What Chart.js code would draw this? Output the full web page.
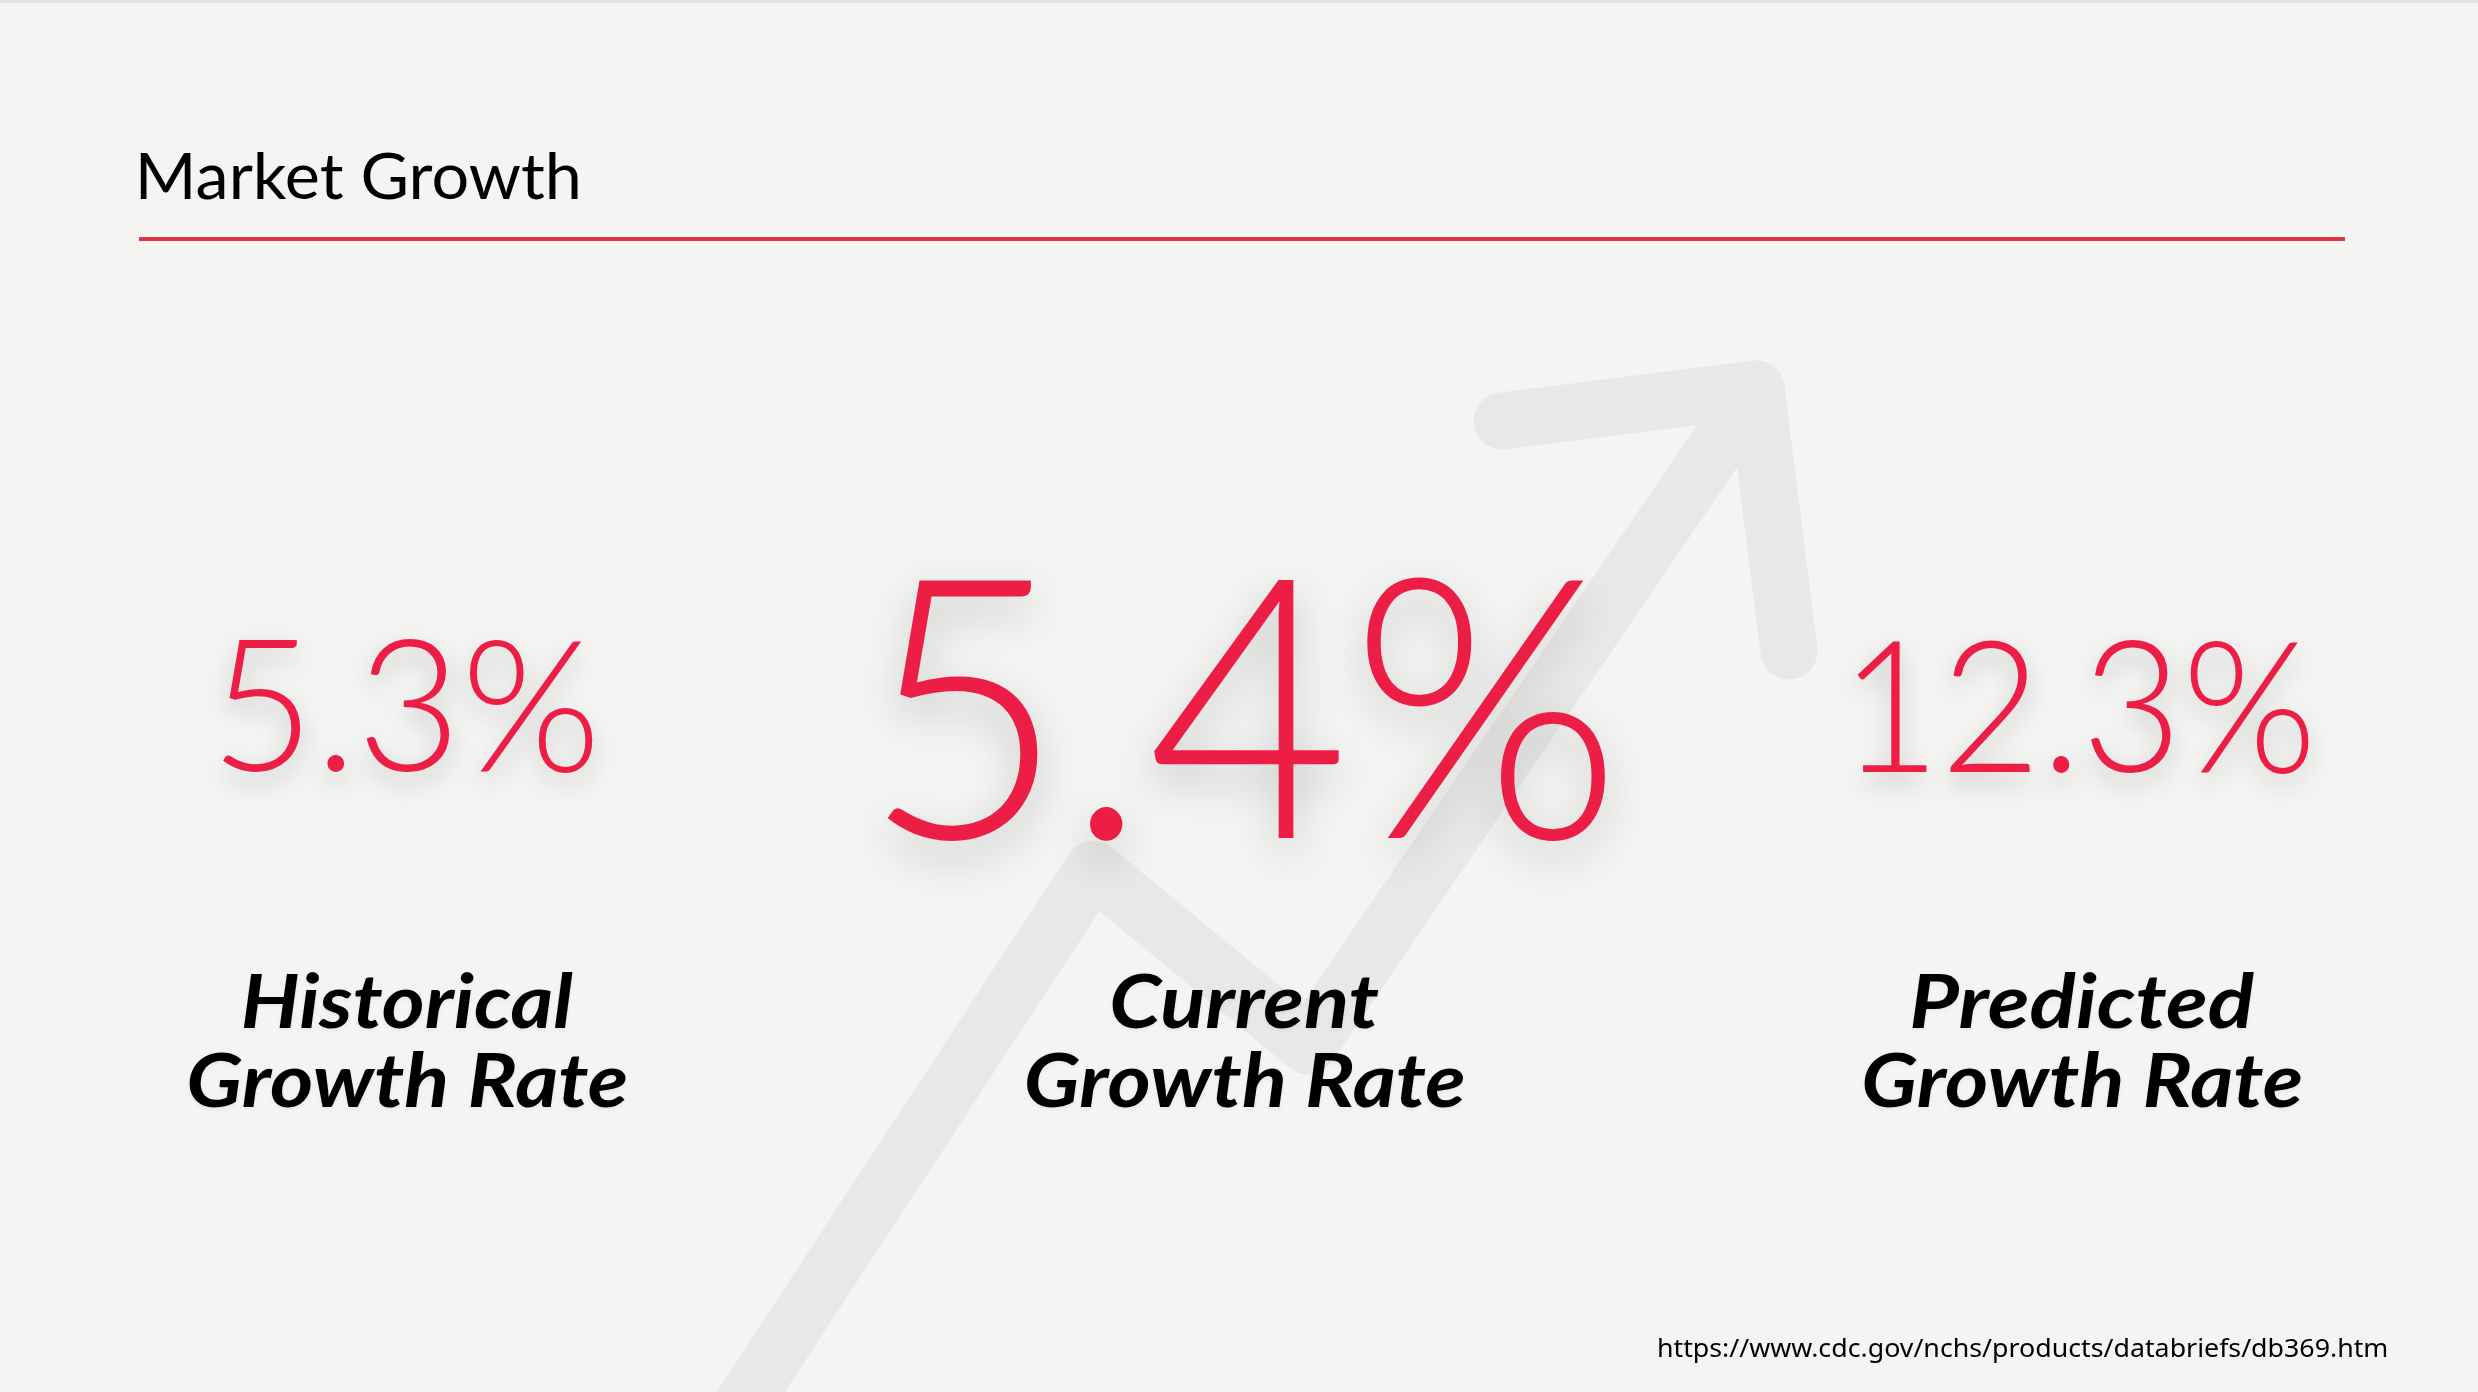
<!DOCTYPE html>
<html>
<head>
<meta charset="utf-8">
<script src="https://cdn.jsdelivr.net/npm/chart.js@4.4.1/dist/chart.umd.min.js"></script>
<style>
  html, body { margin: 0; padding: 0; background: #f4f4f2; }
  #wrap { width: 2478px; height: 1392px; position: relative; }
</style>
</head>
<body>
<div id="wrap"><canvas id="growthChart"></canvas></div>
<script>
const titleText = 'Market Growth';
const sourceText = 'https://www.cdc.gov/nchs/products/databriefs/db369.htm';

const categories = ['Historical', 'Current', 'Predicted'];
const categorySub = 'Growth Rate';
const growthRates = [5.3, 5.4, 12.3];

// background arrow, in page pixels
const arrowShaft = [
  { x: 680, y: 1500 }, { x: 1093, y: 869 }, { x: 1308, y: 1046 }, { x: 1756, y: 389 }
];
const arrowHead = [
  { x: 1502, y: 421 }, { x: 1756, y: 389 }, { x: 1789, y: 651 }
];

const W = 2478, H = 1392;
const red = '#ed1e46';

// how big each value is drawn, and how wide its ink is
const valueStyle = [
  { size: 184, width: 370, base: 771, blur: 26, off: 10 },
  { size: 364, width: 722, base: 838, blur: 44, off: 16 },
  { size: 184, width: 452, base: 772, blur: 26, off: 10 }
];
const labelWidths = [330, 266, 343];

function drawFitted(ctx, text, font, x, baseline, width, align) {
  ctx.font = font;
  ctx.textAlign = 'left';
  ctx.textBaseline = 'alphabetic';
  const m = ctx.measureText(text);
  const ink = m.actualBoundingBoxLeft + m.actualBoundingBoxRight;
  const sx = width / ink;
  const left = align === 'center' ? x - width / 2 : x;
  ctx.save();
  ctx.translate(left, baseline);
  ctx.scale(sx, 1);
  ctx.fillText(text, m.actualBoundingBoxLeft, 0);
  ctx.restore();
}

const slidePlugin = {
  id: 'slide',
  beforeDraw(chart) {
    const ctx = chart.ctx;
    ctx.save();
    ctx.fillStyle = '#f4f4f2';
    ctx.fillRect(0, 0, W, H);
    ctx.fillStyle = '#e3e3e1';
    ctx.fillRect(0, 0, W, 3);
    ctx.restore();
  },
  afterDatasetsDraw(chart) {
    const ctx = chart.ctx;
    const meta = chart.getDatasetMeta(2);

    ctx.save();
    ctx.fillStyle = '#000';
    drawFitted(ctx, titleText, '400 64px Lato', 140, 199, 438, 'left');
    ctx.fillStyle = '#e0364c';
    ctx.fillRect(139, 237, 2206, 4);

    // values
    meta.data.forEach((pt, i) => {
      const s = valueStyle[i];
      ctx.save();
      ctx.shadowColor = 'rgba(0,0,0,0.22)';
      ctx.shadowBlur = s.blur;
      ctx.shadowOffsetY = s.off;
      ctx.fillStyle = red;
      drawFitted(ctx, growthRates[i].toFixed(1) + '%', '300 ' + s.size + 'px Lato', pt.x, s.base, s.width, 'center');
      ctx.restore();

      ctx.save();
      ctx.fillStyle = '#000';
      ctx.shadowColor = 'rgba(0,0,0,0.06)';
      ctx.shadowBlur = 4;
      ctx.shadowOffsetY = 2;
      drawFitted(ctx, categories[i], 'italic 700 75px Lato', pt.x, 1028, labelWidths[i], 'center');
      drawFitted(ctx, categorySub, 'italic 700 75px Lato', pt.x, 1107, 437, 'center');
      ctx.restore();
    });

    ctx.fillStyle = '#000';
    drawFitted(ctx, sourceText, '400 26px "Noto Sans"', 1659, 1357, 728, 'left');
    ctx.restore();
  }
};

const ctx = document.getElementById('growthChart').getContext('2d');

new Chart(ctx, {
  type: 'line',
  data: {
    datasets: [
      {
        label: 'arrow',
        data: arrowShaft,
        xAxisID: 'xa',
        yAxisID: 'ya',
        borderColor: '#e8e8e6',
        borderWidth: 57,
        borderCapStyle: 'round',
        borderJoinStyle: 'round',
        pointRadius: 0,
        tension: 0,
        fill: false
      },
      {
        label: 'arrow head',
        data: arrowHead,
        xAxisID: 'xa',
        yAxisID: 'ya',
        borderColor: '#e8e8e6',
        borderWidth: 57,
        borderCapStyle: 'round',
        borderJoinStyle: 'round',
        pointRadius: 0,
        tension: 0,
        fill: false
      },
      {
        label: 'Growth rate (%)',
        data: growthRates.map((v, i) => ({ x: i, y: v })),
        xAxisID: 'x',
        yAxisID: 'y',
        showLine: false,
        pointRadius: 0
      }
    ]
  },
  options: {
    responsive: true,
    maintainAspectRatio: false,
    devicePixelRatio: 1,
    animation: false,
    layout: { padding: 0 },
    plugins: {
      legend: { display: false },
      tooltip: { enabled: false }
    },
    scales: {
      x: { type: 'linear', display: false, min: -0.4872, max: 2.4716 },
      y: { type: 'linear', display: false, min: 0, max: 15 },
      xa: { type: 'linear', display: false, min: 0, max: W },
      ya: { type: 'linear', display: false, min: 0, max: H, reverse: true }
    }
  },
  plugins: [slidePlugin]
});
</script>
</body>
</html>
